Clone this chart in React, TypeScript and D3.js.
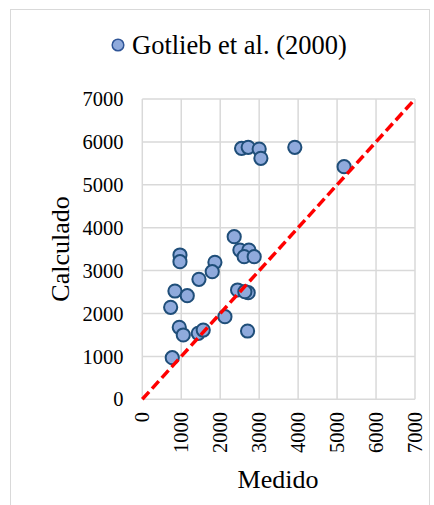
import React from "react";
import * as d3 from "d3";

const seriesName = "Gotlieb et al. (2000)";
const xTitle = "Medido";
const yTitle = "Calculado";
const ticks = [0, 1000, 2000, 3000, 4000, 5000, 6000, 7000];
const medido = [
  2548, 2718, 3000, 3044, 3915, 5180,
  2359, 2505, 2736, 2615, 2872, 967, 967, 1864, 1795, 1454, 838, 1154, 728,
  2446, 2718, 2633, 2121, 949, 2702, 1436, 1564, 1052, 769,
];
const calculado = [
  5850, 5874, 5834, 5617, 5874, 5422,
  3790, 3480, 3480, 3324, 3324, 3364, 3207, 3193, 2975, 2797, 2524, 2415, 2144,
  2548, 2485, 2508, 1925, 1678, 1592, 1538, 1615, 1499, 970,
];
const identity = [0, 7000];

export default function App() {
  const W = 434, H = 505;
  const x = d3.scaleLinear().domain([0, 7000]).range([142.3, 415]);
  const y = d3.scaleLinear().domain([0, 7000]).range([399.3, 99]);
  const font = "'Liberation Serif', 'Times New Roman', serif";
  const grid = "#D9D9D9";
  const line = d3.line<number>().x((d) => x(d)).y((d) => y(d));
  return (
    <svg width={W} height={H} style={{ position: "absolute", left: 0, top: 0 }} fontFamily={font}>
      <rect x={0} y={0} width={W} height={H} fill="#fff" />
      <rect x={10.5} y={9.5} width={419} height={H + 5} fill="#fff" stroke={grid} strokeWidth={1} />
      {/* legend */}
      <circle cx={118} cy={45} r={5.8} fill="#8FAADC" stroke="#2F5597" strokeWidth={1.5} />
      <text x={132} y={54} fontSize={26.5} fill="#000">{seriesName}</text>
      {/* grid */}
      {ticks.map((t) => (
        <line key={"gx" + t} x1={x(t)} x2={x(t)} y1={y(0)} y2={y(7000)} stroke={grid} strokeWidth={1.5} />
      ))}
      {ticks.map((t) => (
        <line key={"gy" + t} x1={x(0)} x2={x(7000)} y1={y(t)} y2={y(t)} stroke={grid} strokeWidth={1.5} />
      ))}
      {/* y tick labels */}
      {ticks.map((t) => (
        <text key={"ly" + t} x={123.5} y={y(t)} dy="0.35em" textAnchor="end" fontSize={20.5} fill="#000">
          {t}
        </text>
      ))}
      {/* x tick labels */}
      {ticks.map((t) => (
        <text
          key={"lx" + t}
          transform={`translate(${x(t)},${412}) rotate(-90)`}
          dy="0.35em"
          textAnchor="end"
          fontSize={20.5}
          fill="#000"
        >
          {t}
        </text>
      ))}
      {/* axis titles */}
      <text transform={`translate(69,249) rotate(-90)`} textAnchor="middle" fontSize={26} fill="#000">
        {yTitle}
      </text>
      <text x={278} y={488} textAnchor="middle" fontSize={26} fill="#000">
        {xTitle}
      </text>
      {/* points */}
      {medido.map((m, i) => (
        <circle key={"p" + i} cx={x(m)} cy={y(calculado[i])} r={6.6} fill="#8FAADC" stroke="#1F4E79" strokeWidth={2} />
      ))}
      {/* identity line */}
      <path d={line(identity) || ""} fill="none" stroke="#FF0000" strokeWidth={3.5} strokeDasharray="10 4.5" />
    </svg>
  );
}
